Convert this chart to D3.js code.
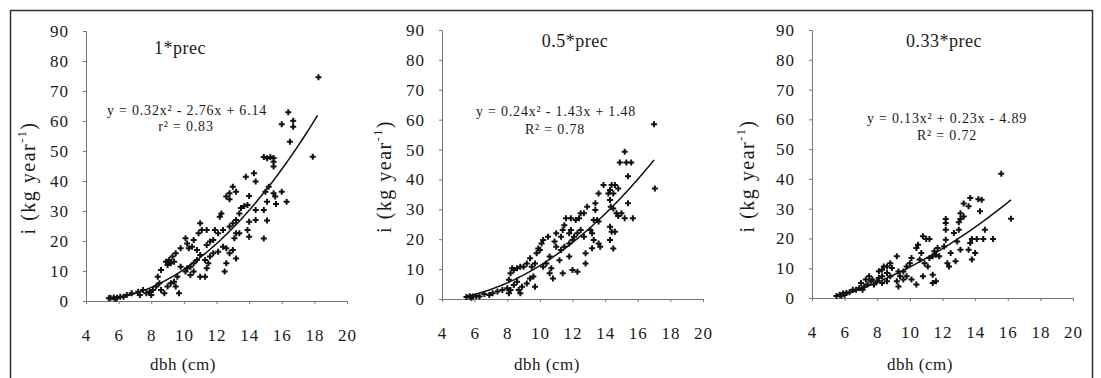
<!DOCTYPE html>
<html>
<head>
<meta charset="utf-8">
<script src="https://cdn.jsdelivr.net/npm/d3@7"></script>
<style>
  body { margin: 0; background: #fff; }
  svg { display: block; }
  svg text { font-family: "Liberation Serif", "DejaVu Serif", serif !important; fill: #1a1a1a; }
  .axis .domain, .axis line { stroke: #777; stroke-width: 1; }
</style>
</head>
<body>
<div id="chart"></div>
<script>
// tick labels
const xTicks = [4, 6, 8, 10, 12, 14, 16, 18, 20];
const yTicks = [0, 10, 20, 30, 40, 50, 60, 70, 80, 90];

const titles = ['1*prec', '0.5*prec', '0.33*prec'];
const equations = ['y = 0.32x\u00b2 - 2.76x + 6.14', 'y = 0.24x\u00b2 - 1.43x + 1.48', 'y = 0.13x\u00b2 + 0.23x - 4.89'];
const fitLabels = ['r\u00b2 = 0.83', 'R\u00b2 = 0.78', 'R\u00b2 = 0.72'];

// fitted polynomial coefficients [a, b, c] and range of the fit line
const fitCoef = [[0.32, -2.76, 6.14], [0.24, -1.43, 1.48], [0.13, 0.23, -4.89]];
const fitRange = [[5.5, 18.2], [5.5, 17.0], [5.7, 16.2]];

// [dbh (cm), i (kg year-1)]
const prec100 = [
  [18.25, 74.6], [17.9, 48.1], [16.4, 62.9], [16.5, 53.1], [16.0, 58.9], [16.7, 60.1], [16.7, 58.1],
  [14.9, 48], [15.1, 47.6], [15.3, 48], [15.5, 47.7], [15.5, 46.4], [15.5, 44.8],
  [15.2, 38.1], [15.0, 36.4], [15.5, 35.9], [15.6, 34.8], [16.0, 36.4], [15.65, 32.3], [16.3, 33.1],
  [15.1, 33.1], [14.9, 30.3], [15.1, 26.8], [14.9, 20.8],
  [14.3, 42.6], [14.4, 39.8], [13.8, 41.4], [14.0, 35.0], [13.9, 32], [13.7, 31.7], [13.5, 31],
  [14.4, 30.3], [14.4, 27], [14.0, 26.4],
  [13.0, 38.1], [13.2, 36.4], [12.8, 35.9], [12.6, 34.8], [12.8, 33.9],
  [13.4, 29.2], [13.2, 27], [13.0, 25.9], [12.8, 24.8],
  [13.9, 23.7], [14.0, 21.4], [13.4, 22.6], [13.2, 22.6], [13.1, 20.9],
  [13.0, 17], [13.2, 14.2], [12.8, 15.9],
  [12.6, 17.6], [12.4, 18.1], [12.1, 16.4], [12.6, 12.6], [12.5, 9.8],
  [12.2, 28.1], [12.3, 29.2], [12.4, 23.7], [12.1, 22.6], [11.9, 23.7],
  [11.8, 20.3], [11.6, 19.8], [11.4, 18.7],
  [11.8, 15.9], [11.6, 14.8], [11.3, 13.7], [11.5, 12.6], [11.4, 10.9], [11.3, 8.1], [11.0, 8.1],
  [11.0, 25.9], [11.1, 23.7], [10.9, 22.6], [11.4, 23.7],
  [10.6, 20.3], [10.5, 18.1], [10.3, 17.6], [10.2, 19.2], [10.1, 20.9],
  [10.8, 17], [11.0, 15.3], [10.8, 13.7], [10.6, 12.6],
  [10.4, 11.4], [10.2, 10.9], [10.1, 9.8], [10.6, 9.8], [10.4, 8.7],
  [9.8, 17.6], [9.5, 15.9], [9.3, 14.8], [9.1, 13.7], [8.9, 13.1], [9.2, 12.6], [9.4, 13.1], [9.0, 12],
  [9.8, 11.4], [9.6, 8.1], [9.4, 6.4], [9.5, 4.8], [9.7, 2.6],
  [8.6, 10.3], [8.4, 8.1], [8.5, 5.9], [8.3, 4.8], [8.6, 3.7], [8.8, 2.6], [9.0, 4.8], [9.2, 5.9],
  [8.1, 3.7], [7.9, 3.1], [7.7, 2.6], [8.0, 2.0], [7.5, 3.7], [7.3, 2.0], [7.2, 3.1],
  [6.8, 2.6], [6.5, 2.0], [6.3, 1.4], [6.1, 1.4], [5.9, 1.1], [5.7, 1.2], [5.4, 0.9], [5.5, 1.1], [5.8, 0.7]
];

const prec50 = [
  [17.0, 58.5], [17.05, 37.0],
  [15.2, 49.3], [14.9, 45.7], [15.3, 45.7], [15.6, 45.7],
  [15.4, 41.1], [15.4, 32.0], [15.2, 27.0], [15.7, 27.0],
  [14.8, 27.8], [14.7, 28.7], [15.0, 28.7],
  [14.4, 38.1], [14.6, 38.1], [14.8, 37], [14.3, 36.5], [14.2, 35.3], [14.5, 35.3],
  [14.3, 33.1], [14.35, 30.9], [14.5, 30.3],
  [14.3, 24.2], [14.4, 22.5], [14.6, 22.5], [14.3, 19.7], [14.5, 16.9],
  [13.9, 38.1], [13.6, 35.3], [13.4, 32.0], [13.4, 29.8],
  [13.3, 26.4], [13.5, 26.4], [13.6, 25.9], [13.1, 23.1], [13.2, 22.0],
  [13.6, 18.6], [13.7, 17.5], [13.3, 19.7], [13.2, 17],
  [12.9, 30.9], [12.7, 28.7], [12.5, 28.7], [12.4, 27], [12.2, 26.4],
  [12.5, 23.1], [12.3, 22.0], [12.1, 20.8], [11.8, 22], [12.7, 20.8],
  [12.0, 19.7], [11.8, 18.6], [11.5, 17.5], [11.3, 16.4], [11.9, 23.1],
  [11.9, 27], [11.6, 27], [11.5, 24.7], [11.4, 23.1], [11.3, 20.8],
  [12.8, 15.3], [12.8, 11.9], [12.3, 9.1], [12.0, 9.7],
  [11.0, 22], [10.9, 19.2], [11.0, 17.5], [11.2, 13],
  [11.4, 8.6], [11.8, 14.2],
  [10.2, 19.7], [10.1, 18.6], [10.5, 20.8], [10.0, 16.4], [9.8, 15.3], [9.9, 16.9],
  [10.6, 14.2], [10.4, 11.9], [10.2, 10.8], [10.7, 10.3], [10.8, 6.9], [10.6, 8.6],
  [9.7, 11.9], [9.5, 10.8], [9.4, 13.6], [9.2, 11.9], [9.0, 10.8], [8.8, 10.8],
  [8.6, 10.3], [8.4, 9.7], [8.3, 10.3], [8.2, 8.6], [8.1, 6.4],
  [9.6, 7.5], [9.4, 6.9], [9.7, 4.1], [9.2, 5.2], [8.9, 4.1], [8.7, 3.0],
  [8.6, 5.8], [8.4, 4.7], [8.2, 3.0], [8.0, 3.6], [8.1, 1.9], [8.8, 1.9],
  [7.7, 3.0], [7.4, 2.5], [7.1, 1.9], [6.9, 1.3], [6.6, 1.7], [6.3, 0.8], [6.1, 1.0], [5.9, 0.8],
  [5.7, 0.9], [5.5, 0.7], [5.8, 0.4]
];

const prec33 = [
  [15.6, 41.7], [16.2, 26.6],
  [15.1, 19.8], [14.5, 19.8], [14.1, 19.8], [13.8, 19.8],
  [14.6, 22.9], [14.3, 29.1], [14.2, 33.2], [14.4, 33.0], [13.7, 33.6], [13.6, 30.8],
  [13.3, 27.4], [13.1, 26.5], [13.0, 25.4], [13.1, 28.5], [13.3, 31.7],
  [13.0, 22.9], [12.7, 21.8], [12.9, 19], [13.1, 16.2], [12.8, 12.3], [13.7, 18.5], [13.8, 12.9],
  [14.0, 15.1], [13.6, 16.2],
  [12.2, 26.5], [12.2, 25.2], [12.2, 22.9], [12.2, 19.6],
  [12.1, 17.3], [12.3, 11.7], [12.4, 10.6], [12.5, 15.1],
  [11.7, 16.8], [11.5, 15.7], [11.8, 14.0], [11.6, 14.5], [11.4, 14.0], [11.2, 13.4],
  [10.8, 20.7], [11.0, 19.8], [11.2, 19.8], [10.5, 17.9], [10.4, 16.8],
  [10.7, 15.1], [10.6, 12.9], [10.9, 11.7], [11.1, 10.6],
  [11.4, 7.8], [11.6, 5.6], [11.4, 5.0], [10.4, 4.5],
  [10.1, 13.4], [10.0, 11.7], [9.8, 10.6], [9.6, 8.9], [9.8, 7.3], [10.1, 6.2], [9.4, 7.3], [9.2, 5.6],
  [9.3, 3.9],
  [9.2, 14.0], [8.8, 11.7], [8.9, 10.1], [8.6, 10.6], [8.4, 10.6], [8.6, 8.4], [8.8, 7.3],
  [8.3, 7.3], [8.1, 6.7], [8.0, 5.6], [8.3, 5.0], [8.6, 5.6], [7.8, 4.5],
  [7.6, 5.6], [7.4, 4.5], [7.3, 6.2], [7.2, 3.9], [7.1, 2.8], [6.9, 3.4],
  [6.7, 2.8], [6.5, 2.8], [6.3, 1.9], [6.1, 1.7], [5.9, 1.5], [5.7, 1.1], [5.8, 0.8], [6.0, 1.1],
  [5.5, 0.7],
  [7.0, 5.0], [7.5, 7.3], [7.7, 6.2], [8.1, 9.0], [8.3, 9.5],
  [9.3, 8.9], [9.6, 6.2], [10.8, 7.3]
];

const seriesData = [prec100, prec50, prec33];

// layout of each panel (plot origin, plot box)
const panels = [
  { left: 86, bottom: 301, top: 31, yLabelX: 30, xLabel: 183, title: [180, 50], eq: [187, 112], fit: [186, 128] },
  { left: 442, bottom: 299, top: 30, yLabelX: 386, xLabel: 547, title: [575, 43], eq: [556, 113], fit: [555, 131] },
  { left: 812, bottom: 298, top: 30, yLabelX: 749, xLabel: 920, title: [944, 43], eq: [947, 120], fit: [947, 137] }
];
const plotW = 261;
const serif = '"Liberation Serif", "DejaVu Serif", serif';

const W = 1101, H = 378;
const svg = d3.select('#chart').append('svg')
  .attr('width', W)
  .attr('height', H)
  .attr('font-family', serif);

// outer frame
svg.append('rect')
  .attr('x', 10.5).attr('y', 10.5)
  .attr('width', 1082).attr('height', 380)
  .attr('fill', 'none')
  .attr('stroke', '#333')
  .attr('stroke-width', 1.5);

const marker = d3.symbol().type(d3.symbolCross).size(20);

panels.forEach((p, i) => {
  const x = d3.scaleLinear().domain([4, 20]).range([p.left, p.left + plotW]);
  const y = d3.scaleLinear().domain([0, 90]).range([p.bottom, p.top]);

  const g = svg.append('g');

  // y axis
  g.append('g')
    .attr('class', 'axis')
    .attr('transform', `translate(${p.left},0)`)
    .call(d3.axisLeft(y).tickValues(yTicks).tickSize(3).tickPadding(14))
    .attr('font-family', serif)
    .call(a => a.selectAll('text').style('font-size', '17px').style('letter-spacing', '1px').attr('fill', '#1a1a1a'));

  // x axis
  g.append('g')
    .attr('class', 'axis')
    .attr('transform', `translate(0,${p.bottom})`)
    .call(d3.axisBottom(x).tickValues(xTicks).tickSize(3).tickPadding(25))
    .attr('font-family', serif)
    .call(a => a.selectAll('text').style('font-size', '17px').style('letter-spacing', '1px').attr('fill', '#1a1a1a'));

  // fitted line
  const coef = fitCoef[i];
  const [x0, x1] = fitRange[i];
  const fitPts = d3.range(x0, x1 + 0.001, 0.1).map(v => [v, coef[0] * v * v + coef[1] * v + coef[2]]);
  g.append('path')
    .datum(fitPts)
    .attr('fill', 'none')
    .attr('stroke', '#111')
    .attr('stroke-width', 1.5)
    .attr('d', d3.line().x(d => x(d[0])).y(d => y(d[1])));

  // points
  g.selectAll('.pt')
    .data(seriesData[i])
    .enter().append('path')
    .attr('class', 'pt')
    .attr('transform', d => `translate(${x(d[0])},${y(d[1])})`)
    .attr('d', marker)
    .attr('fill', '#111');

  // title
  g.append('text')
    .attr('x', p.title[0]).attr('y', p.title[1])
    .attr('text-anchor', 'middle')
    .attr('dominant-baseline', 'middle')
    .style('font-size', '18px')
    .style('letter-spacing', '0.5px')
    .text(titles[i]);

  // equation and fit
  g.append('text')
    .attr('x', p.eq[0]).attr('y', p.eq[1])
    .attr('text-anchor', 'middle')
    .attr('dominant-baseline', 'middle')
    .style('font-size', '14px')
    .style('letter-spacing', '0.8px')
    .text(equations[i]);
  g.append('text')
    .attr('x', p.fit[0]).attr('y', p.fit[1])
    .attr('text-anchor', 'middle')
    .attr('dominant-baseline', 'middle')
    .style('font-size', '14px')
    .style('letter-spacing', '0.8px')
    .text(fitLabels[i]);

  // x label
  g.append('text')
    .attr('x', p.xLabel).attr('y', 366)
    .attr('text-anchor', 'middle')
    .attr('dominant-baseline', 'middle')
    .style('font-size', '17px')
    .style('letter-spacing', '0.5px')
    .text('dbh (cm)');

  // y label
  const yl = g.append('text')
    .attr('transform', `translate(${p.yLabelX},${(p.top + p.bottom) / 2 + 12}) rotate(-90)`)
    .attr('text-anchor', 'middle')
    .attr('dominant-baseline', 'middle')
    .style('font-size', '20px')
    .style('letter-spacing', '1.5px');
  yl.append('tspan').text('i (kg year');
  yl.append('tspan').attr('dy', -7).style('font-size', '12px').text('-1');
  yl.append('tspan').attr('dy', 7).text(')');
});
</script>
</body>
</html>
